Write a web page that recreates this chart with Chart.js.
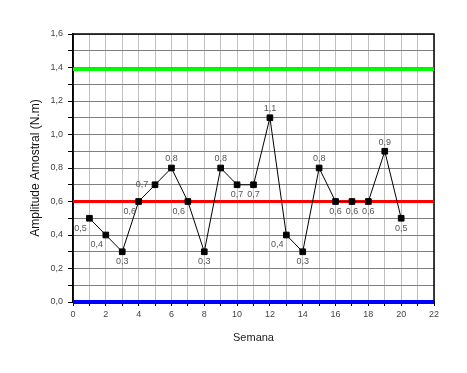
<!DOCTYPE html>
<html>
<head>
<meta charset="utf-8">
<script src="https://cdn.jsdelivr.net/npm/chart.js@4.4.0/dist/chart.umd.min.js"></script>
<style>
  html, body { margin: 0; padding: 0; background: #fff; }
</style>
</head>
<body>
<canvas id="chart" width="467" height="373"></canvas>
<script>
const semanas = [1, 2, 3, 4, 5, 6, 7, 8, 9, 10, 11, 12, 13, 14, 15, 16, 17, 18, 19, 20];
const amplitude = [0.5, 0.4, 0.3, 0.6, 0.7, 0.8, 0.6, 0.3, 0.8, 0.7, 0.7, 1.1, 0.4, 0.3, 0.8, 0.6, 0.6, 0.6, 0.9, 0.5];
const limiteSuperior = 1.39;
const linhaCentral = 0.6;
const limiteInferior = 0;
const xLimites = [0, 22];
const yLimites = [0, 1.6];
// where each value label sits around its point
const posRotulo = ['bl', 'bl', 'b', 'bl', 'l', 't', 'bl', 'b', 't', 'b', 'b', 't', 'bl', 'b', 't', 'b', 'b', 'b', 't', 'b'];

const fmt = v => v.toFixed(1).replace('.', ',');

const horizontal = (y, color, width) => ({
  data: xLimites.map(x => ({ x: x, y: y })),
  borderColor: color,
  borderWidth: width,
  pointRadius: 0,
  clip: false,
  order: 2
});

const rotulos = {
  id: 'rotulos',
  afterDatasetsDraw(chart) {
    const ctx = chart.ctx;
    const meta = chart.getDatasetMeta(3);
    const off = { b: [0, 10], bl: [-9, 10], l: [-13, 0], t: [0, -9] };
    ctx.save();
    ctx.font = '9px "Liberation Sans", Arial, sans-serif';
    ctx.fillStyle = '#555';
    ctx.textAlign = 'center';
    ctx.textBaseline = 'middle';
    meta.data.forEach((p, i) => {
      const o = off[posRotulo[i]];
      ctx.fillText(fmt(amplitude[i]), p.x + o[0], p.y + o[1]);
    });
    ctx.restore();
  }
};

const moldura = {
  id: 'moldura',
  beforeDatasetsDraw(chart) {
    const a = chart.chartArea;
    const ctx = chart.ctx;
    ctx.save();
    ctx.strokeStyle = '#000';
    ctx.lineWidth = 1.5;
    ctx.strokeRect(a.left, a.top, a.right - a.left, a.bottom - a.top);
    ctx.restore();
  }
};

new Chart(document.getElementById('chart'), {
  type: 'line',
  data: {
    datasets: [
      horizontal(limiteSuperior, '#00ff00', 3.5),
      horizontal(linhaCentral, '#ff0000', 3),
      horizontal(limiteInferior, '#0000ff', 4),
      {
        data: semanas.map((s, i) => ({ x: s, y: amplitude[i] })),
        borderColor: '#000',
        borderWidth: 1,
        pointStyle: 'rect',
        pointRadius: 4,
        pointBackgroundColor: '#000',
        pointBorderColor: '#000',
        order: 0
      }
    ]
  },
  options: {
    responsive: false,
    animation: false,
    layout: { padding: { top: 34, right: 33, left: 0, bottom: 0 } },
    plugins: { legend: { display: false }, tooltip: { enabled: false } },
    scales: {
      x: {
        type: 'linear',
        min: xLimites[0],
        max: xLimites[1],
        afterFit: s => { s.height = 71; },
        ticks: {
          stepSize: 1,
          autoSkip: false,
          maxRotation: 0,
          padding: 3,
          color: '#444',
          font: { family: '"Liberation Sans", Arial, sans-serif', size: 9 },
          callback: (v, i) => (i % 2 === 0 ? String(Math.round(v)) : '')
        },
        grid: { color: '#c0c0c0', tickColor: '#000', tickLength: 4 },
        border: { color: '#000', width: 1.5 },
        title: {
          display: true,
          text: 'Semana',
          color: '#222',
          font: { family: '"Liberation Sans", Arial, sans-serif', size: 11 },
          padding: { top: 0, bottom: 28 }
        }
      },
      y: {
        min: yLimites[0],
        max: yLimites[1],
        afterFit: s => { s.width = 73; },
        ticks: {
          stepSize: 0.1,
          autoSkip: false,
          padding: 5,
          color: '#444',
          font: { family: '"Liberation Sans", Arial, sans-serif', size: 9 },
          callback: (v, i) => (i % 2 === 0 ? fmt(v) : '')
        },
        grid: { color: '#808080', tickColor: '#000', tickLength: 5 },
        border: { color: '#000', width: 1.5 },
        title: {
          display: true,
          text: 'Amplitude Amostral (N.m)',
          color: '#111',
          font: { family: '"Liberation Sans", Arial, sans-serif', size: 12 },
          padding: { top: 28, bottom: 0 }
        }
      }
    }
  },
  plugins: [moldura, rotulos]
});
</script>
</body>
</html>
